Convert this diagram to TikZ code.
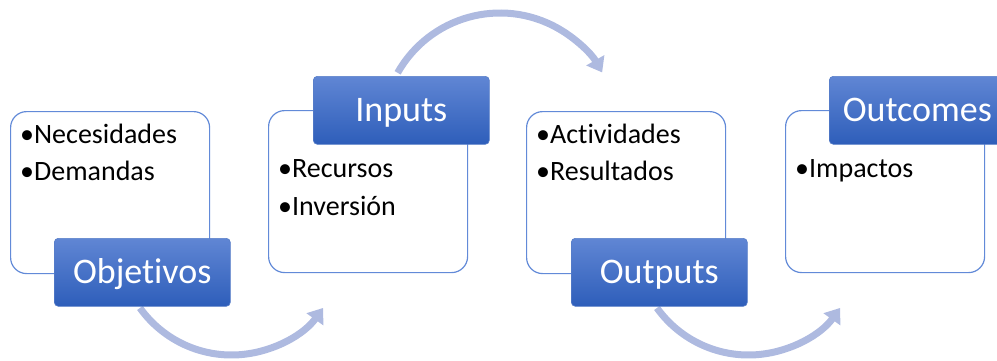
\documentclass[tikz,border=0pt]{standalone}
\usepackage{fontspec}
\setmainfont[Ligatures=NoCommon]{Carlito}
\usetikzlibrary{arrows.meta}
\definecolor{boxline}{RGB}{98,138,216}
\definecolor{labtop}{RGB}{96,134,212}
\definecolor{labbot}{RGB}{46,94,186}
\definecolor{arc}{RGB}{174,186,224}
\tikzset{
  whitebox/.style={draw=boxline, line width=1.2pt, fill=white, rounded corners=16pt,
    minimum width=199pt, minimum height=162pt, anchor=north west, inner sep=0pt},
  labbox/.style={rounded corners=4pt, top color=labtop, bottom color=labbot, draw=labbot!80!white,
    line width=0.6pt, minimum width=176pt, minimum height=68pt, anchor=north west, inner sep=0pt,
    text=white, font=\fontsize{36}{40}\selectfont, text height=23pt, text depth=0pt},
  item/.style={anchor=base west, inner sep=0pt, font=\fontsize{28}{34}\selectfont},
  flow/.style={draw=arc, line width=7pt, -{Triangle[width=20pt,length=14pt]}}
}
\begin{document}
\begin{tikzpicture}[x=1pt,y=1pt]
\useasboundingbox (0,0) rectangle (997,360);
\begin{scope}
\clip (0,0) rectangle (997,360);
% arcs
\coordinate (c1) at (231.5,117.6);
\coordinate (c2) at (500,229.5);
\coordinate (c3) at (748.5,117.6);
\draw[flow] ([shift={(215.6:112.6)}]c1) arc[start angle=215.6, end angle=324.4, radius=112.6];
\draw[flow] ([shift={(150.6:117.5)}]c2) arc[start angle=150.6, end angle=29.6, radius=117.5];
\draw[flow] ([shift={(215.6:112.6)}]c3) arc[start angle=215.6, end angle=324.4, radius=112.6];
% boxes
\node[whitebox] (b1) at (10,249) {};
\node[whitebox] (b2) at (268,250) {};
\node[whitebox] (b3) at (526,249) {};
\node[whitebox] (b4) at (785,250) {};
% items
\node[item] (t11) at (20,217) {•Necesidades};
\node[item] (t12) at (20,180) {•Demandas};
\node[item] (t21) at (278,183) {•Recursos};
\node[item] (t22) at (278,145) {•Inversión};
\node[item] (t31) at (536,217) {•Actividades};
\node[item] (t32) at (536,180) {•Resultados};
\node[item] (t41) at (795,183) {•Impactos};
% labels
\node[labbox] (l1) at (54,122) {Objetivos};
\node[labbox] (l2) at (313,284) {Inputs};
\node[labbox] (l3) at (571,122) {Outputs};
\node[labbox] (l4) at (829,284) {Outcomes};
\end{scope}
\end{tikzpicture}
\end{document}
